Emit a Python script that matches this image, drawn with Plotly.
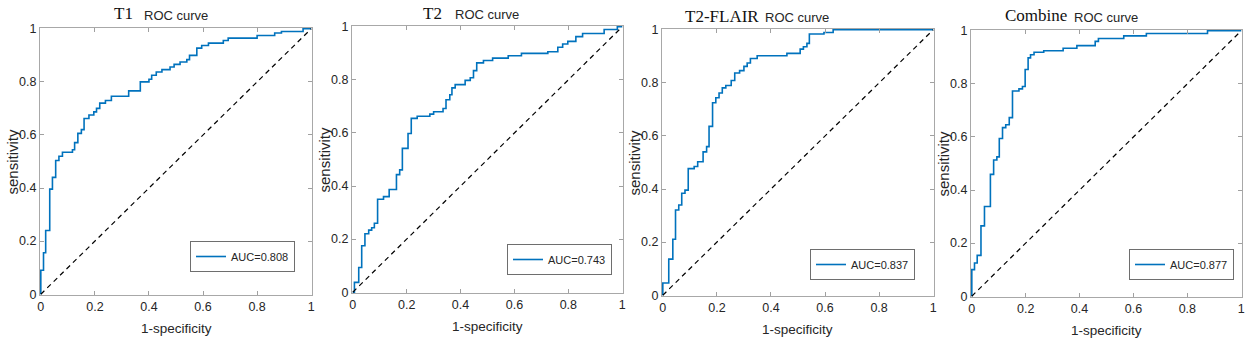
import plotly.graph_objects as go

# ---------------- data ----------------
titles = ["T1", "T2", "T2-FLAIR", "Combine"]
auc_labels = ["AUC=0.808", "AUC=0.743", "AUC=0.837", "AUC=0.877"]
tick_vals = [0, 0.2, 0.4, 0.6, 0.8, 1]
tick_text = ["0", "0.2", "0.4", "0.6", "0.8", "1"]

fpr_t1 = [0, 0, 0.01, 0.018, 0.033, 0.043, 0.055, 0.067, 0.08, 0.117, 0.125, 0.137, 0.15, 0.16,
          0.178, 0.196, 0.206, 0.218, 0.239, 0.261, 0.325, 0.368, 0.4, 0.41, 0.427, 0.448, 0.478,
          0.493, 0.515, 0.54, 0.55, 0.577, 0.595, 0.62, 0.675, 0.693, 0.8, 0.865, 0.89, 0.97, 1.0]
tpr_t1 = [0, 0.09, 0.156, 0.24, 0.396, 0.44, 0.504, 0.52, 0.535, 0.544, 0.571, 0.606, 0.62, 0.662,
          0.675, 0.687, 0.70, 0.72, 0.73, 0.746, 0.766, 0.80, 0.81, 0.825, 0.837, 0.846, 0.856,
          0.866, 0.875, 0.884, 0.90, 0.927, 0.937, 0.946, 0.956, 0.965, 0.975, 0.984, 0.99, 1.0, 1.0]

fpr_t2 = [0, 0.006, 0.022, 0.033, 0.045, 0.059, 0.07, 0.08, 0.092, 0.114, 0.135, 0.162, 0.174,
          0.184, 0.205, 0.217, 0.239, 0.286, 0.3, 0.335, 0.346, 0.36, 0.368, 0.38, 0.417, 0.436,
          0.448, 0.46, 0.485, 0.519, 0.577, 0.626, 0.724, 0.761, 0.779, 0.798, 0.828, 0.853,
          0.933, 0.982, 1.0]
tpr_t2 = [0, 0.037, 0.093, 0.175, 0.22, 0.234, 0.243, 0.26, 0.35, 0.36, 0.387, 0.443, 0.461,
          0.542, 0.598, 0.655, 0.663, 0.671, 0.68, 0.692, 0.725, 0.744, 0.77, 0.782, 0.798, 0.808,
          0.835, 0.864, 0.873, 0.882, 0.891, 0.90, 0.906, 0.923, 0.935, 0.945, 0.963, 0.975,
          0.99, 1.0, 1.0]

fpr_flair = [0, 0, 0.022, 0.037, 0.047, 0.059, 0.07, 0.082, 0.094, 0.116, 0.129, 0.149, 0.162,
             0.171, 0.184, 0.196, 0.208, 0.22, 0.233, 0.253, 0.266, 0.284, 0.3, 0.312, 0.324,
             0.349, 0.459, 0.508, 0.52, 0.533, 0.542, 0.596, 0.63, 1.0]
tpr_flair = [0, 0.046, 0.136, 0.211, 0.321, 0.34, 0.384, 0.396, 0.477, 0.485, 0.503, 0.54, 0.56,
             0.636, 0.725, 0.744, 0.762, 0.781, 0.79, 0.809, 0.837, 0.846, 0.862, 0.875, 0.892,
             0.902, 0.911, 0.927, 0.936, 0.949, 0.984, 0.99, 1.0, 1.0]

fpr_comb = [0, 0, 0.01, 0.02, 0.034, 0.047, 0.069, 0.081, 0.093, 0.102, 0.114, 0.126, 0.139,
            0.151, 0.175, 0.188, 0.198, 0.209, 0.218, 0.231, 0.267, 0.339, 0.39, 0.458, 0.47,
            0.564, 0.648, 0.875, 1.0]
tpr_comb = [0, 0.10, 0.125, 0.154, 0.265, 0.338, 0.459, 0.513, 0.525, 0.594, 0.635, 0.646, 0.673,
            0.773, 0.781, 0.79, 0.854, 0.898, 0.91, 0.919, 0.925, 0.934, 0.944, 0.96, 0.971,
            0.981, 0.99, 1.0, 1.0]

chance_x = [0, 1]
chance_y = [0, 1]

curves = [(fpr_t1, tpr_t1), (fpr_t2, tpr_t2), (fpr_flair, tpr_flair), (fpr_comb, tpr_comb)]

# ---------------- layout constants (page pixels) ----------------
W, H = 1248, 344
boxes = [(40, 312, 28, 295), (352, 623, 26, 293), (662, 934, 29, 296), (971, 1242, 30, 297)]
legend_px = [(295, 272), (612, 275), (915, 280), (1234, 280)]   # right, bottom
title_px = [(123, 13.5, 176, 15.5), (432, 14, 487, 14.5), (722, 17, 797, 18), (1036, 15.5, 1106, 18)]


def px(p):
    return p / W


def py(p):
    return 1 - p / H


SANS = "Liberation Sans, Arial, sans-serif"
SERIF = "Liberation Serif, Times New Roman, serif"
TXT = "#262626"
BLUE = "#0072BD"

fig = go.Figure()
annotations = []
layout = dict(
    template="none",
    width=W, height=H,
    margin=dict(l=0, r=0, t=0, b=0, pad=0, autoexpand=False),
    paper_bgcolor="white", plot_bgcolor="white",
    font=dict(family=SANS, size=12, color=TXT),
    hovermode=False,
)

for i, ((x, y), (l, r, t, b)) in enumerate(zip(curves, boxes)):
    n = "" if i == 0 else str(i + 1)
    xa, ya = "x" + n, "y" + n
    leg = "legend" + n
    fig.add_trace(go.Scatter(
        x=x, y=y, mode="lines", line=dict(color=BLUE, width=1.6, shape="hv"),
        name=auc_labels[i], xaxis=xa, yaxis=ya, legend=leg, showlegend=True,
        hoverinfo="skip"))
    fig.add_trace(go.Scatter(
        x=chance_x, y=chance_y, mode="lines",
        line=dict(color="black", width=1.2, dash="5px,4px"),
        xaxis=xa, yaxis=ya, showlegend=False, hoverinfo="skip"))

    axcommon = dict(
        range=[-0.003, 1.003], tickmode="array", tickvals=tick_vals, ticktext=tick_text,
        showgrid=False, zeroline=False, showline=True, linecolor="#a8a8a8", linewidth=1,
        mirror="ticks", ticks="inside", ticklen=4, tickcolor="#a0a0a0", tickwidth=1,
        tickfont=dict(family=SANS, size=12.5, color=TXT), fixedrange=True, automargin=False,
    )
    layout["xaxis" + n] = dict(axcommon, domain=[px(l), px(r)], anchor=ya)
    layout["yaxis" + n] = dict(axcommon, domain=[py(b), py(t)], anchor=xa)

    lr, lb = legend_px[i]
    layout[leg] = dict(
        x=px(lr), y=py(lb), xanchor="right", yanchor="bottom",
        bgcolor="white", bordercolor="#6e6e6e", borderwidth=1,
        font=dict(family=SANS, size=11, color=TXT),
        itemwidth=30, tracegroupgap=0,
    )

    # titles
    tx, ty, rx, ry = title_px[i]
    annotations.append(dict(text=titles[i], x=px(tx), y=py(ty), xref="paper", yref="paper",
                            xanchor="center", yanchor="middle", showarrow=False,
                            font=dict(family=SERIF, size=17, color="#111111")))
    annotations.append(dict(text="ROC curve", x=px(rx), y=py(ry), xref="paper", yref="paper",
                            xanchor="center", yanchor="middle", showarrow=False,
                            font=dict(family=SANS, size=13, color=TXT)))
    # axis titles
    annotations.append(dict(text="1-specificity", x=px((l + r) / 2), y=py(b + 33),
                            xref="paper", yref="paper", xanchor="center", yanchor="middle",
                            showarrow=False, font=dict(family=SANS, size=13.5, color=TXT)))
    annotations.append(dict(text="sensitivity", x=px(l - 28), y=py((t + b) / 2),
                            xref="paper", yref="paper", xanchor="center", yanchor="middle",
                            textangle=-90, showarrow=False,
                            font=dict(family=SANS, size=15, color=TXT)))

layout["annotations"] = annotations
fig.update_layout(**layout)

# the page body has a default 8px margin; remove it so the figure fills the window exactly
page_fix = "document.body.style.margin='0';document.body.style.padding='0';"
fig.write_html("out.html", post_script=page_fix, config={"displayModeBar": False})
